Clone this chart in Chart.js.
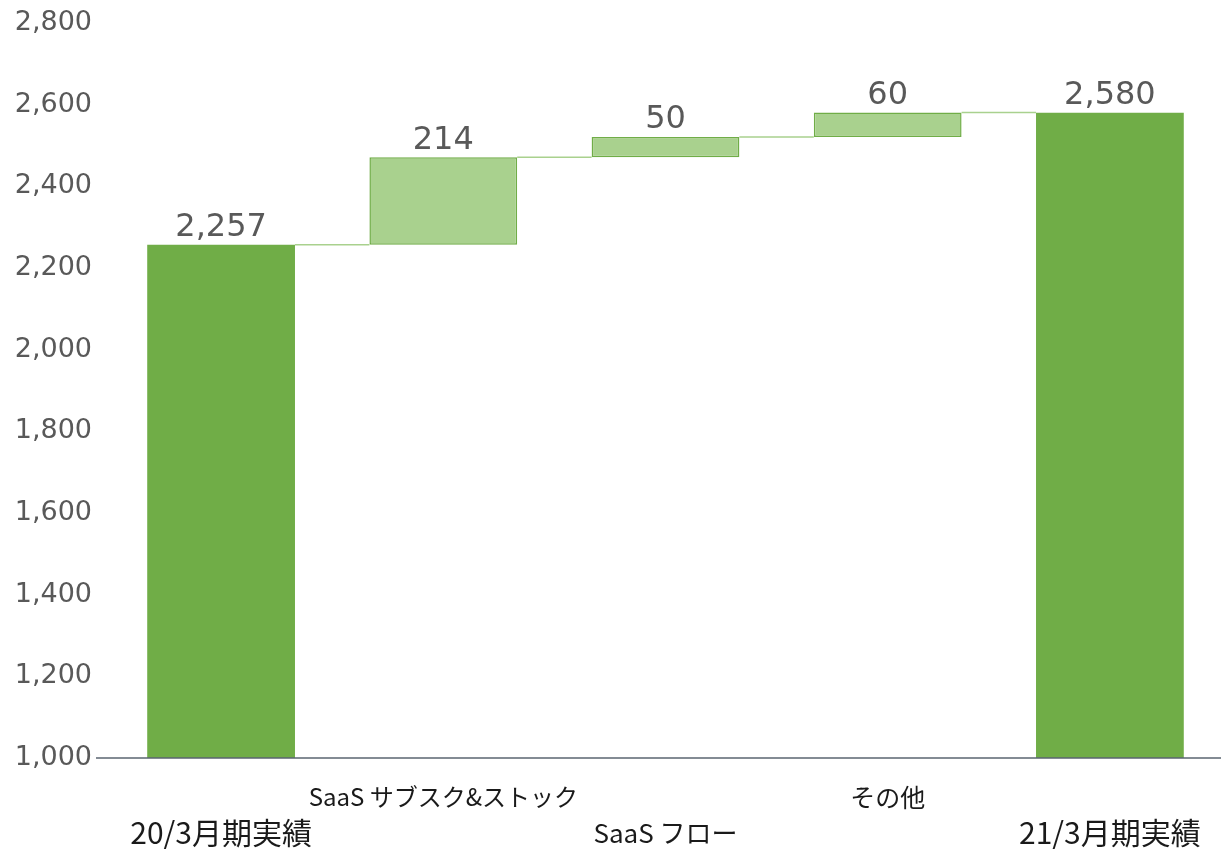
<!DOCTYPE html>
<html>
<head>
<meta charset="utf-8">
<script src="https://cdn.jsdelivr.net/npm/chart.js@4/dist/chart.umd.min.js"></script>
<style>
  html, body { margin: 0; padding: 0; background: #fff; }
  #wrap { width: 1221px; height: 849px; }
</style>
</head>
<body>
<div id="wrap"><canvas id="chart"></canvas></div>
<script>
const categories = [
  ["", "20/3月期実績"],
  ["SaaS サブスク&ストック", ""],
  ["", "SaaS フロー"],
  ["その他", ""],
  ["", "21/3月期実績"]
];
const values = [2257, 214, 50, 60, 2580];
const isTotal = [true, false, false, false, true];
const yMin = 1000;
const yMax = 2800;
const yStep = 200;

// floating ranges for the waterfall
const ranges = [];
let running = 0;
values.forEach((v, i) => {
  if (isTotal[i]) {
    ranges.push([yMin, v]);
    running = v;
  } else {
    ranges.push([running, running + v]);
    running += v;
  }
});

const numFont = "'DejaVu Sans', sans-serif";
const jpFont = "'Noto Sans CJK JP', 'DejaVu Sans', sans-serif";
// Meiryo-like look: kanji larger, kana smaller
const labelSizes = [30, 24, 26, 25, 30];

const waterfallExtras = {
  id: "waterfallExtras",
  afterDatasetsDraw(chart) {
    const ctx = chart.ctx;
    const bars = chart.getDatasetMeta(0).data;
    const y = chart.scales.y;
    ctx.save();
    // connector lines
    ctx.strokeStyle = "#a9d18e";
    ctx.lineWidth = 1.5;
    for (let i = 0; i < bars.length - 1; i++) {
      const level = y.getPixelForValue(ranges[i][1]);
      ctx.beginPath();
      ctx.moveTo(bars[i].x + bars[i].width / 2, level);
      ctx.lineTo(bars[i + 1].x - bars[i + 1].width / 2, level);
      ctx.stroke();
    }
    // axis line at the base
    const base = y.getPixelForValue(yMin);
    ctx.strokeStyle = "#5a6570";
    ctx.lineWidth = 1.5;
    ctx.beginPath();
    ctx.moveTo(chart.chartArea.left - 14, base);
    ctx.lineTo(chart.chartArea.right, base);
    ctx.stroke();
    // value labels
    ctx.fillStyle = "#595959";
    ctx.font = "32px " + numFont;
    ctx.textAlign = "center";
    ctx.textBaseline = "bottom";
    bars.forEach((bar, i) => {
      const top = y.getPixelForValue(Math.max(ranges[i][0], ranges[i][1]));
      ctx.fillText(values[i].toLocaleString("en-US"), bar.x, top - 1);
    });
    ctx.restore();
  }
};

new Chart(document.getElementById("chart"), {
  type: "bar",
  data: {
    labels: categories,
    datasets: [{
      data: ranges,
      backgroundColor: isTotal.map(t => t ? "#70ad47" : "#a9d18e"),
      borderColor: "#70ad47",
      borderWidth: isTotal.map(t => t ? 0 : 1.5),
      borderSkipped: false,
      barPercentage: 0.665,
      categoryPercentage: 1.0
    }]
  },
  options: {
    responsive: true,
    maintainAspectRatio: false,
    animation: false,
    layout: { padding: { top: 23, right: 0, left: 0, bottom: 0 } },
    plugins: {
      legend: { display: false },
      tooltip: { enabled: false }
    },
    scales: {
      x: {
        grid: { display: false, drawTicks: false },
        border: { display: false },
        ticks: {
          color: "#1a1a1a",
          font: ctx => ({ family: jpFont, size: labelSizes[ctx.index], lineHeight: "36px" }),
          padding: 21,
          maxRotation: 0,
          autoSkip: false
        },
        afterFit(scale) {
          scale.height = 91;
          scale.paddingLeft = 0;
          scale.paddingRight = 0;
        }
      },
      y: {
        min: yMin,
        max: yMax,
        grid: { display: false, drawTicks: false },
        border: { display: false },
        ticks: {
          stepSize: yStep,
          color: "#595959",
          font: { family: numFont, size: 27 },
          padding: 18,
          callback: v => v.toLocaleString("en-US")
        },
        afterFit(scale) {
          scale.width = 110;
          scale.paddingTop = 0;
          scale.paddingBottom = 0;
        }
      }
    }
  },
  plugins: [waterfallExtras]
});
</script>
</body>
</html>
